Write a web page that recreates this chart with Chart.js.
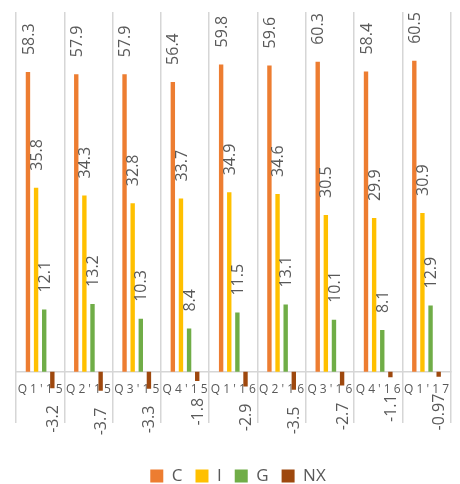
<!DOCTYPE html>
<html>
<head>
<meta charset="utf-8">
<script src="https://cdn.jsdelivr.net/npm/chart.js@4"></script>
<style>
  html, body { margin: 0; padding: 0; background: #ffffff; }
  #wrap { width: 460px; height: 484px; }
</style>
</head>
<body>
<div id="wrap"><canvas id="c" width="460" height="484"></canvas></div>
<script>
const categories = ["Q1'15", "Q2'15", "Q3'15", "Q4'15", "Q1'16", "Q2'16", "Q3'16", "Q4'16", "Q1'17"];
const seriesC  = [58.3, 57.9, 57.9, 56.4, 59.8, 59.6, 60.3, 58.4, 60.5];
const seriesI  = [35.8, 34.3, 32.8, 33.7, 34.9, 34.6, 30.5, 29.9, 30.9];
const seriesG  = [12.1, 13.2, 10.3, 8.4, 11.5, 13.1, 10.1, 8.1, 12.9];
const seriesNX = [-3.2, -3.7, -3.3, -1.8, -2.9, -3.5, -2.7, -1.1, -0.97];
const seriesNames = ['C', 'I', 'G', 'NX'];
const seriesColors = ['#ED7D31', '#FFC000', '#70AD47', '#9E480E'];

Chart.defaults.font.family = '"Open Sans", "Liberation Sans", sans-serif';
Chart.defaults.color = '#595959';

const valueLabels = {
  id: 'valueLabels',
  afterDatasetsDraw(chart) {
    const ctx = chart.ctx;
    ctx.save();
    ctx.font = '16px "Open Sans"';
    ctx.fillStyle = '#595959';
    ctx.textBaseline = 'middle';
    chart.data.datasets.forEach((ds, di) => {
      const meta = chart.getDatasetMeta(di);
      meta.data.forEach((bar, i) => {
        const v = ds.data[i];
        ctx.save();
        ctx.translate(bar.x + 1, bar.y + (v >= 0 ? -17 : 17));
        ctx.rotate(-Math.PI / 2);
        ctx.textAlign = v >= 0 ? 'left' : 'right';
        ctx.fillText(String(v), 0, 0);
        ctx.restore();
      });
    });
    ctx.restore();
  }
};

const allSeries = [seriesC, seriesI, seriesG, seriesNX];

new Chart(document.getElementById('c'), {
  type: 'bar',
  data: {
    labels: categories,
    datasets: allSeries.map((d, k) => ({
      label: seriesNames[k],
      data: d,
      backgroundColor: seriesColors[k],
      borderWidth: 0,
      barPercentage: 0.54,
      categoryPercentage: 0.673
    }))
  },
  options: {
    responsive: false,
    animation: false,
    layout: { padding: { top: 12, left: 16, right: 0, bottom: -10.5 } },
    plugins: {
      tooltip: { enabled: false },
      legend: {
        position: 'bottom',
        title: { display: true, text: '', padding: { top: 17, bottom: 0 } },
        labels: {
          font: { size: 17 },
          color: '#595959',
          boxWidth: 13,
          boxHeight: 13,
          padding: 13
        }
      }
    },
    scales: {
      y: {
        display: false,
        min: -10,
        max: 70
      },
      x: {
        position: { y: 0 },
        grid: { offset: true, color: '#d6d6d6', lineWidth: 1.5, drawTicks: false },
        border: { color: '#d6d6d6', width: 1.5 },
        ticks: {
          autoSkip: false,
          maxRotation: 0,
          padding: 11,
          font: { size: 12 },
          color: '#595959',
          callback: (v, i) => categories[i].split('').join(' ')
        }
      }
    }
  },
  plugins: [valueLabels]
});
</script>
</body>
</html>
